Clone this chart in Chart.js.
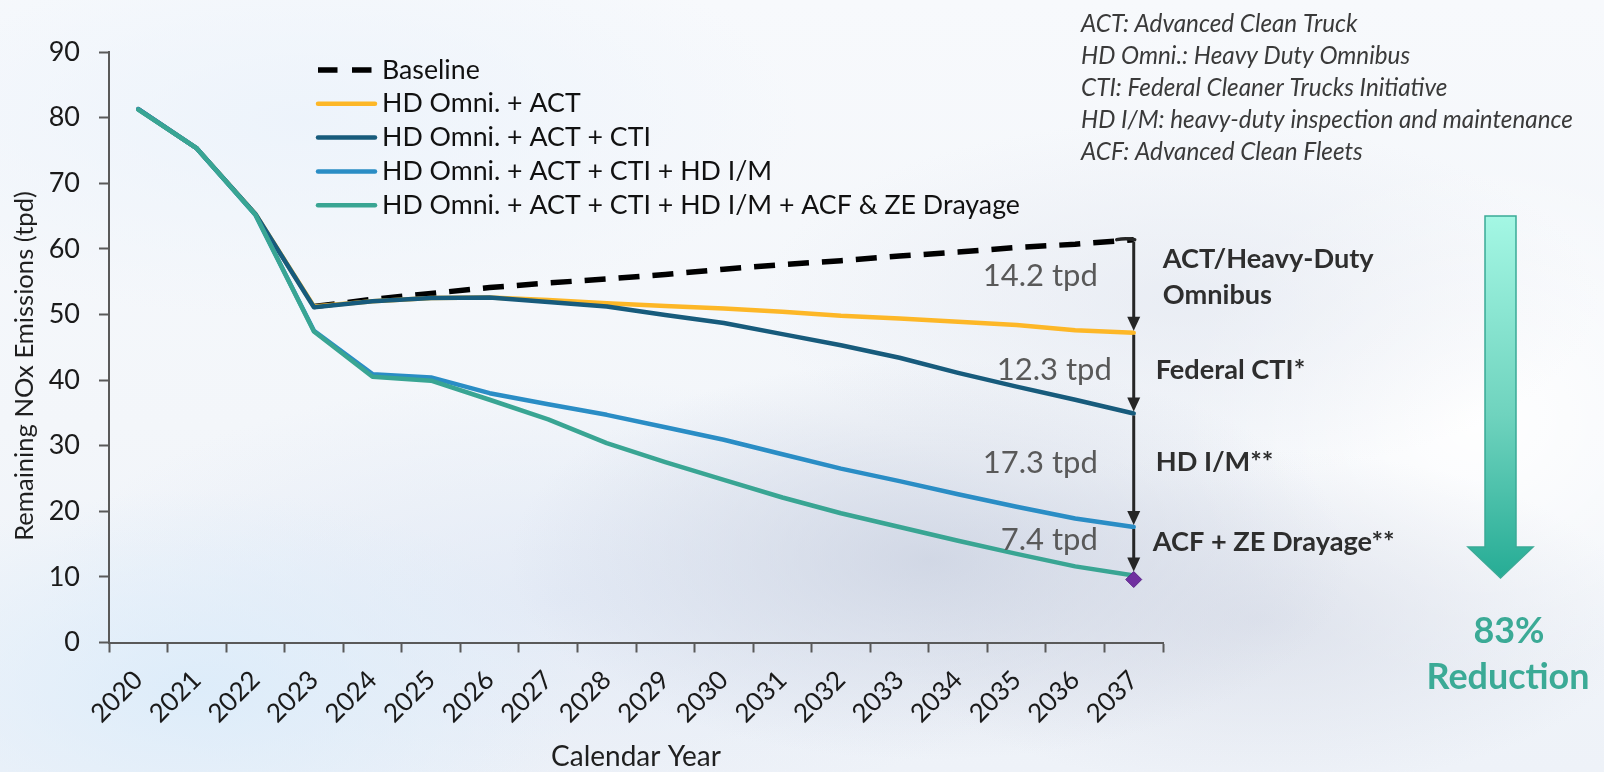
<!DOCTYPE html>
<html>
<head>
<meta charset="utf-8">
<script src="https://cdn.jsdelivr.net/npm/chart.js@4.4.1/dist/chart.umd.min.js"></script>
<style>
html,body{margin:0;padding:0;width:1604px;height:772px;overflow:hidden;}
body{
  background:
    radial-gradient(ellipse 420px 200px at 930px 560px, rgba(200,207,223,0.75), rgba(200,207,223,0) 100%),
    radial-gradient(ellipse 380px 170px at 1260px 620px, rgba(210,215,228,0.6), rgba(210,215,228,0) 100%),
    radial-gradient(ellipse 420px 180px at 1180px 300px, rgba(220,225,236,0.45), rgba(220,225,236,0) 100%),
    radial-gradient(ellipse 380px 200px at 200px 690px, rgba(220,236,250,0.95), rgba(220,236,250,0) 100%),
    radial-gradient(ellipse 520px 220px at 560px 600px, rgba(224,232,245,0.8), rgba(224,232,245,0) 100%),
    radial-gradient(ellipse 300px 260px at 1480px 420px, rgba(255,255,255,0.95), rgba(255,255,255,0) 100%),
    radial-gradient(ellipse 500px 200px at 300px 120px, rgba(236,243,251,0.9), rgba(236,243,251,0) 100%),
    linear-gradient(180deg, #f7f9fc 0%, #f3f6fa 55%, #eef2f8 100%);
}
#wrap{position:relative;width:1604px;height:772px;}
</style>
</head>
<body>
<div id="wrap"><canvas id="c" width="1604" height="772"></canvas></div>
<script>
// ---------- data ----------
const years = ["2020","2021","2022","2023","2024","2025","2026","2027","2028","2029","2030","2031","2032","2033","2034","2035","2036","2037"];
const baseline = [null,null,null,51.2,52.3,53.2,54.1,54.8,55.4,56.1,56.9,57.6,58.2,58.9,59.5,60.2,60.7,61.4];
const omniAct  = [81.3,75.3,65.3,51.2,52.0,52.5,52.6,52.2,51.7,51.3,50.9,50.4,49.8,49.4,48.9,48.4,47.6,47.2];
const omniActCti = [81.3,75.3,65.3,51.1,52.0,52.5,52.6,51.9,51.2,49.9,48.7,47.0,45.3,43.4,41.1,39.0,37.0,34.9];
const omniActCtiIm = [81.3,75.3,65.2,47.5,40.9,40.4,38.0,36.3,34.7,32.8,30.9,28.7,26.5,24.6,22.6,20.7,18.9,17.6];
const omniActCtiImAcf = [81.2,75.3,65.2,47.4,40.5,39.9,37.0,34.0,30.4,27.5,24.8,22.1,19.7,17.6,15.5,13.5,11.6,10.2];
const endMarker = [null,null,null,null,null,null,null,null,null,null,null,null,null,null,null,null,null,9.6];
const seriesNames = ["Baseline","HD Omni. + ACT","HD Omni. + ACT + CTI","HD Omni. + ACT + CTI + HD I/M","HD Omni. + ACT + CTI + HD I/M + ACF & ZE Drayage"];
const yTicks = [0,10,20,30,40,50,60,70,80,90];
const reductionLabels = ["14.2 tpd","12.3 tpd","17.3 tpd","7.4 tpd"];
const measureLabels = [["ACT/Heavy-Duty","Omnibus"],["Federal CTI*"],["HD I/M**"],["ACF + ZE Drayage**"]];
const notes = ["ACT: Advanced Clean Truck","HD Omni.: Heavy Duty Omnibus","CTI: Federal Cleaner Trucks Initiative","HD I/M: heavy-duty inspection and maintenance","ACF: Advanced Clean Fleets"];
const totalLabel = ["83%","Reduction"];
const xTitle = "Calendar Year";
const yTitle = "Remaining NOx Emissions (tpd)";

// ---------- fonts ----------
const FAM = 'Lato, "Open Sans", "DejaVu Sans", sans-serif';
const mctx = document.createElement('canvas').getContext('2d');
function fitSize(text, width, style){ mctx.font = style + ' 100px ' + FAM; return 100 * width / mctx.measureText(text).width; }
const legendSize = fitSize(seriesNames[4], 638, '');
const noteSize = fitSize(notes[3], 492, 'italic');
const tpdSize = fitSize(reductionLabels[0], 115, '');
const measureSize = fitSize(measureLabels[0][0], 211, 'bold');
const bigSize = fitSize(totalLabel[1], 163, 'bold');
const xTitleSize = fitSize(xTitle, 170, '');
const yTitleSize = fitSize(yTitle, 350, '');

const COLORS = ['#000000','#FDB727','#175B7C','#2A8DC5','#39A593'];

const overlay = {
  id:'overlay',
  afterDraw(chart){
    const ctx = chart.ctx, xs = chart.scales.x, ys = chart.scales.y, ca = chart.chartArea;
    ctx.save();
    // axis titles
    ctx.fillStyle = '#1f1f1f';
    ctx.font = xTitleSize + 'px ' + FAM;
    ctx.textAlign = 'center'; ctx.textBaseline = 'middle';
    ctx.fillText(xTitle, (ca.left + ca.right)/2, 757);
    ctx.save();
    ctx.translate(25, 366); ctx.rotate(-Math.PI/2);
    ctx.font = yTitleSize + 'px ' + FAM;
    ctx.fillText(yTitle, 0, 0);
    ctx.restore();

    // legend
    const ds = chart.data.datasets;
    ctx.font = legendSize + 'px ' + FAM;
    ctx.textAlign = 'left';
    for (let i = 0; i < seriesNames.length; i++) {
      const yy = 70 + i * 33.8;
      const d = ds[i];
      ctx.beginPath();
      ctx.strokeStyle = d.borderColor; ctx.lineWidth = d.borderWidth;
      ctx.setLineDash(i === 0 ? [19.5, 14.5] : []);
      ctx.lineCap = i === 0 ? 'butt' : 'round';
      ctx.moveTo(318, yy); ctx.lineTo(375, yy); ctx.stroke();
      ctx.setLineDash([]);
      ctx.fillStyle = '#111';
      ctx.fillText(d.label, 382, yy);
    }

    // reduction arrows
    const li = years.length - 1;
    const ax = xs.getPixelForValue(li);
    const chain = [baseline[li], omniAct[li], omniActCti[li], omniActCtiIm[li], omniActCtiImAcf[li]];
    ctx.strokeStyle = '#262626'; ctx.fillStyle = '#262626'; ctx.lineWidth = 3; ctx.lineCap = 'butt';
    const mids = [];
    for (let i = 0; i < 4; i++) {
      const t = ys.getPixelForValue(chain[i]);
      const b = ys.getPixelForValue(chain[i+1]);
      mids.push((t + b) / 2);
      const tip = i === 3 ? b - 4 : b - 2;
      ctx.beginPath(); ctx.moveTo(ax, t + 2); ctx.lineTo(ax, tip - 12); ctx.stroke();
      ctx.beginPath(); ctx.moveTo(ax - 6.5, tip - 14); ctx.lineTo(ax + 6.5, tip - 14); ctx.lineTo(ax, tip); ctx.closePath(); ctx.fill();
      if (i === 0) {
        ctx.beginPath(); ctx.lineWidth = 3.5; ctx.lineCap = 'round';
        ctx.moveTo(ax - 17, t); ctx.quadraticCurveTo(ax - 8, t - 2, ax + 1, t); ctx.stroke();
        ctx.lineWidth = 3; ctx.lineCap = 'butt';
      }
    }
    // tpd labels
    ctx.font = tpdSize + 'px ' + FAM;
    ctx.fillStyle = '#595959'; ctx.textAlign = 'right'; ctx.textBaseline = 'middle';
    const tpdDx = [-36, -22, -36, -36], tpdDy = [-10, -3, -7, -11];
    for (let i = 0; i < 4; i++) ctx.fillText(reductionLabels[i], ax + tpdDx[i], mids[i] + tpdDy[i]);
    // measure labels
    ctx.font = 'bold ' + measureSize + 'px ' + FAM;
    ctx.fillStyle = '#2e2e2e'; ctx.textAlign = 'left';
    const mDx = [29, 22, 22, 19], mDy = [-27, -3, -8, -9];
    for (let i = 0; i < 4; i++) {
      measureLabels[i].forEach((s, k) => ctx.fillText(s, ax + mDx[i], mids[i] + mDy[i] + k * 36.5));
    }

    // notes
    ctx.font = 'italic ' + noteSize + 'px ' + FAM;
    ctx.fillStyle = '#3a3a3a';
    notes.forEach((s, k) => ctx.fillText(s, 1081, 24 + k * 32));

    // big gradient arrow
    const cx = 1500.5, top = 216, headY = 547, tipY = 578, sw = 15.5, hw = 32.5;
    const g = ctx.createLinearGradient(0, top, 0, tipY);
    g.addColorStop(0, '#A4F7E4'); g.addColorStop(0.55, '#6FD3BE'); g.addColorStop(1, '#26AC95');
    ctx.beginPath();
    ctx.moveTo(cx - sw, top); ctx.lineTo(cx + sw, top); ctx.lineTo(cx + sw, headY);
    ctx.lineTo(cx + hw, headY); ctx.lineTo(cx, tipY); ctx.lineTo(cx - hw, headY);
    ctx.lineTo(cx - sw, headY); ctx.closePath();
    ctx.fillStyle = g; ctx.fill();
    ctx.strokeStyle = '#3AAA96'; ctx.lineWidth = 1.5; ctx.stroke();
    ctx.font = 'bold ' + bigSize + 'px ' + FAM;
    ctx.fillStyle = '#3BAA96'; ctx.textAlign = 'center';
    ctx.fillText(totalLabel[0], 1509, 631);
    ctx.fillText(totalLabel[1], 1508, 677);
    ctx.restore();
  }
};

const AX = '#595959';
new Chart(document.getElementById('c').getContext('2d'), {
  type: 'line',
  data: {
    labels: years,
    datasets: [
      { label: seriesNames[0], data: baseline, borderColor: COLORS[0], backgroundColor: COLORS[0], borderWidth: 5.5, borderDash: [21, 13], borderCapStyle: 'butt', order: 5 },
      { label: seriesNames[1], data: omniAct, borderColor: COLORS[1], backgroundColor: COLORS[1], borderWidth: 4.5, order: 4 },
      { label: seriesNames[2], data: omniActCti, borderColor: COLORS[2], backgroundColor: COLORS[2], borderWidth: 4.5, order: 3 },
      { label: seriesNames[3], data: omniActCtiIm, borderColor: COLORS[3], backgroundColor: COLORS[3], borderWidth: 4.5, order: 2 },
      { label: seriesNames[4], data: omniActCtiImAcf, borderColor: COLORS[4], backgroundColor: COLORS[4], borderWidth: 4.5, order: 1 },
      { label: '', data: endMarker, showLine: false, pointStyle: 'rectRot', pointRadius: 8, pointBackgroundColor: '#7030A0', pointBorderColor: '#5B2387', pointBorderWidth: 1, order: 0 }
    ]
  },
  options: {
    responsive: false,
    animation: false,
    layout: { padding: { left: 0, right: 441, top: 52, bottom: 0 } },
    plugins: { legend: { display: false }, tooltip: { enabled: false } },
    elements: { point: { radius: 0 }, line: { tension: 0, borderCapStyle: 'round', borderJoinStyle: 'round' } },
    scales: {
      x: {
        type: 'category', offset: true,
        grid: { offset: true, drawOnChartArea: false, drawTicks: true, tickLength: 10, tickColor: AX, tickWidth: 2 },
        border: { color: AX, width: 2 },
        ticks: { minRotation: 45, maxRotation: 45, autoSkip: false, color: '#1a1a1a', font: { family: FAM, size: 26 }, padding: 12 },
        afterFit(s) { s.height = 772 - 642.5; }
      },
      y: {
        min: 0, max: 90,
        afterBuildTicks(s) { s.ticks = yTicks.map(v => ({ value: v })); },
        grid: { drawOnChartArea: false, drawTicks: true, tickLength: 10, tickColor: AX, tickWidth: 2 },
        border: { color: AX, width: 2 },
        ticks: { color: '#1a1a1a', font: { family: FAM, size: 27 }, padding: 19 },
        afterFit(s) { s.width = 109; }
      }
    }
  },
  plugins: [overlay]
});
</script>
</body>
</html>
